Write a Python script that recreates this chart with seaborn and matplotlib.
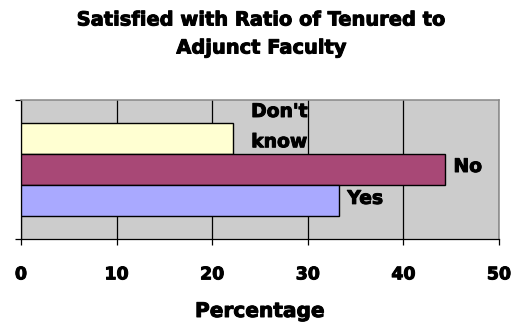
import matplotlib
matplotlib.use("Agg")
import matplotlib.pyplot as plt
import matplotlib.patheffects as pe
import seaborn as sns
import pandas as pd

# Survey responses (percent of respondents)
categories = ["Don't know", "No", "Yes"]
percentages = [22.2, 44.4, 33.3]
bar_labels = ["Don't\nknow", "No", "Yes"]
bar_colors = ["#FFFFD2", "#A84876", "#A9A9FF"]
x_ticks = [0, 10, 20, 30, 40, 50]

title = "Satisfied with Ratio of Tenured to\nAdjunct Faculty"
x_title = "Percentage"

df = pd.DataFrame({"Response": categories, "Percent": percentages})

sns.set_style("white")
plt.rcParams["font.family"] = ["DejaVu Sans"]
plt.rcParams["font.weight"] = "bold"
plt.rcParams["text.color"] = "black"
plt.rcParams["xtick.color"] = "black"
plt.rcParams["ytick.color"] = "black"

heavy = [pe.withStroke(linewidth=0.7, foreground="black")]

fig = plt.figure(figsize=(5.15, 3.24), dpi=100)
ax = fig.add_axes([21 / 515, 1 - 239 / 324, 478 / 515, 139 / 324])
ax.set_facecolor("#CCCCCC")

sns.barplot(
    data=df, x="Percent", y="Response", hue="Response", order=categories,
    palette=dict(zip(categories, bar_colors)), orient="h", width=1.0,
    saturation=1, edgecolor="black", linewidth=1.0, legend=False, ax=ax,
    zorder=3,
)

# Category band spans the whole plot area with gaps above and below the bars
ax.set_ylim(3.25, -1.25)
ax.set_yticks([3.25, -1.25])
ax.set_yticklabels(["", ""])
ax.set_xlim(x_ticks[0], x_ticks[-1])
ax.set_xticks(x_ticks)
ax.set_xticklabels([str(t) for t in x_ticks], fontsize=12.5, fontweight="bold",
                   path_effects=heavy)
ax.set_xlabel("")
ax.set_ylabel("")

ax.tick_params(axis="x", direction="out", length=4, width=0.9, color="black",
               pad=15, bottom=True)
ax.tick_params(axis="y", direction="out", length=4.5, width=0.9, color="black",
               left=True)

ax.grid(axis="x", color="black", linewidth=0.9, zorder=1)
ax.grid(axis="y", visible=False)
ax.set_axisbelow(True)

for side in ("left", "bottom"):
    ax.spines[side].set_color("black")
    ax.spines[side].set_linewidth(0.9)
for side in ("top", "right"):
    ax.spines[side].set_color("#888888")
    ax.spines[side].set_linewidth(1.1)

# Data labels at the end of each bar
offsets = [(46, 12), (8, 3), (8, 2)]
has = ["center", "left", "left"]
for i, (val, lab) in enumerate(zip(percentages, bar_labels)):
    ax.annotate(lab, xy=(val, i), xytext=offsets[i], textcoords="offset pixels",
                ha=has[i], va="center", fontsize=13.5, fontweight="bold",
                linespacing=1.75, zorder=5, path_effects=heavy)

fig.text(0.508, 1 - 34 / 324, title, ha="center", va="center", fontsize=14,
         fontweight="bold", linespacing=1.6, path_effects=heavy)
fig.text(0.505, 1 - 311.5 / 324, x_title, ha="center", va="center",
         fontsize=14.5, fontweight="bold", path_effects=heavy)

fig.savefig("out.png", dpi=100)
